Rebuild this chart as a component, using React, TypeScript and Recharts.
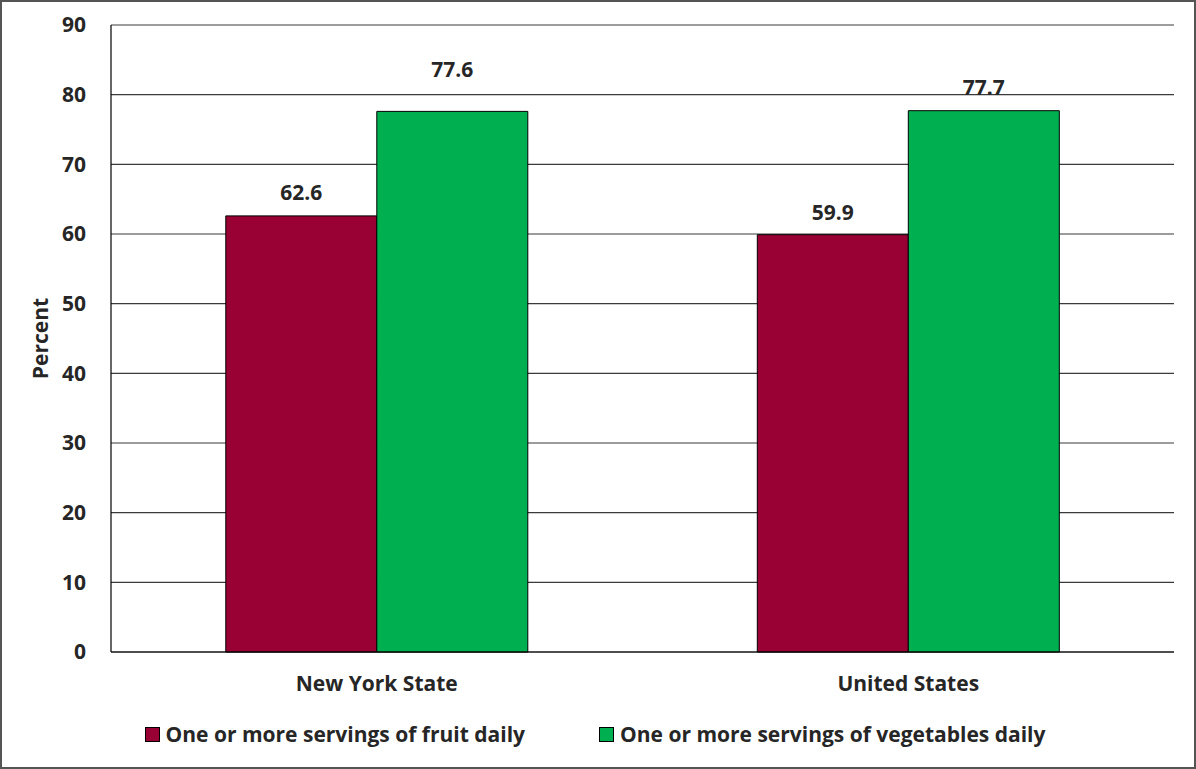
import { BarChart, Bar, XAxis, YAxis, CartesianGrid, Legend } from 'recharts';

const regions = ['New York State', 'United States'];
const fruitDaily = [62.6, 59.9];
const vegetablesDaily = [77.6, 77.7];
const yTicks = [0, 10, 20, 30, 40, 50, 60, 70, 80, 90];

const FRUIT = '#990033';
const VEG = '#00b050';
const FONT = '"Open Sans", Lato, sans-serif';
const FS = 21;

// how far each value label sits above its bar (Excel nudged the first green one up)
const fruitLift = [16, 15];
const vegLift = [34, 16];

const data = regions.map((name, i) => ({ name, fruit: fruitDaily[i], veg: vegetablesDaily[i] }));

const makeLabel = (lift: number[]) => (props: any) => {
  const { x, y, width, value, index } = props;
  return (
    <text x={x + width / 2} y={y - lift[index]} textAnchor="middle" fontFamily={FONT} fontWeight={700} fontSize={FS} fill="#262626">
      {value}
    </text>
  );
};

const legendItems = [
  { label: 'One or more servings of fruit daily', color: FRUIT },
  { label: 'One or more servings of vegetables daily', color: VEG },
];

const LegendBox = () => (
  <div style={{ display: 'flex', justifyContent: 'center', gap: 74, paddingTop: 3, paddingLeft: 14, fontFamily: FONT, fontWeight: 700, fontSize: FS, color: '#262626' }}>
    {legendItems.map((it) => (
      <div key={it.label} style={{ display: 'flex', alignItems: 'center', gap: 6 }}>
        <span style={{ width: 13, height: 13, background: it.color, border: '1px solid #000', display: 'inline-block' }} />
        <span>{it.label}</span>
      </div>
    ))}
  </div>
);

export default function App() {
  return (
    <div style={{ position: 'absolute', top: 0, left: 0, width: 1196, height: 769, boxSizing: 'border-box', border: '2px solid #555', background: '#fff' }}>
      <BarChart width={1192} height={765} data={data} margin={{ top: 23, right: 20, bottom: 0, left: 0 }} barGap={0} barCategoryGap="21.6%">
        <CartesianGrid vertical={false} stroke="#3a3a3a" strokeWidth={1.2} />
        <XAxis dataKey="name" height={65} axisLine={{ stroke: '#000', strokeWidth: 1.2 }} tickLine={false} tickSize={0} tickMargin={24}
          tick={{ fontFamily: FONT, fontWeight: 700, fontSize: FS, fill: '#262626' }} />
        <YAxis domain={[0, 90]} ticks={yTicks} width={109} axisLine={{ stroke: '#000', strokeWidth: 1.2 }} tickLine={false} tickSize={0} tickMargin={25}
          tick={{ fontFamily: FONT, fontWeight: 700, fontSize: FS, fill: '#262626' }}
          label={{ value: 'Percent', angle: -90, position: 'center', dx: -16, style: { fontFamily: FONT, fontWeight: 700, fontSize: FS, fill: '#262626' } }} />
        <Legend verticalAlign="bottom" wrapperStyle={{ height: 50 }} content={<LegendBox />} />
        <Bar dataKey="fruit" fill={FRUIT} stroke="#000" strokeWidth={1} isAnimationActive={false} label={makeLabel(fruitLift)} />
        <Bar dataKey="veg" fill={VEG} stroke="#000" strokeWidth={1} isAnimationActive={false} label={makeLabel(vegLift)} />
      </BarChart>
    </div>
  );
}
